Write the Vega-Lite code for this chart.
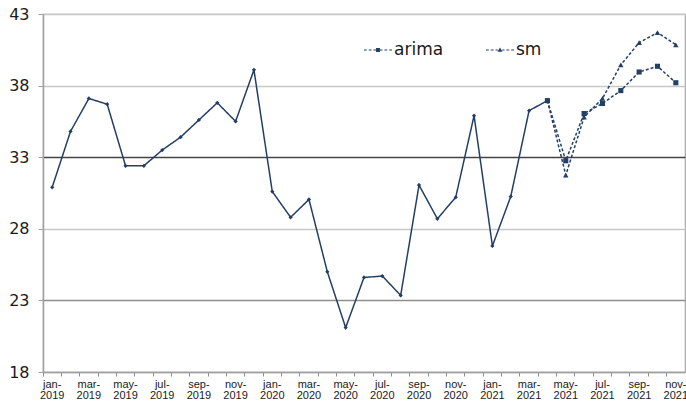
{
  "$schema": "https://vega.github.io/schema/vega-lite/v6.json",
  "width": 642,
  "height": 358,
  "autosize": "none",
  "padding": {"left": 43, "top": 14, "right": 1, "bottom": 31},
  "background": "white",
  "config": {
    "view": {"stroke": "#a8a8a8", "strokeWidth": 1.2},
    "font": "Liberation Sans"
  },
  "data": {
    "values": [
      {"month": "jan-2019", "series": "actual", "value": 30.9},
      {"month": "feb-2019", "series": "actual", "value": 34.8},
      {"month": "mar-2019", "series": "actual", "value": 37.1},
      {"month": "apr-2019", "series": "actual", "value": 36.7},
      {"month": "may-2019", "series": "actual", "value": 32.4},
      {"month": "jun-2019", "series": "actual", "value": 32.4},
      {"month": "jul-2019", "series": "actual", "value": 33.5},
      {"month": "aug-2019", "series": "actual", "value": 34.4},
      {"month": "sep-2019", "series": "actual", "value": 35.6},
      {"month": "oct-2019", "series": "actual", "value": 36.8},
      {"month": "nov-2019", "series": "actual", "value": 35.5},
      {"month": "dec-2019", "series": "actual", "value": 39.1},
      {"month": "jan-2020", "series": "actual", "value": 30.6},
      {"month": "feb-2020", "series": "actual", "value": 28.8},
      {"month": "mar-2020", "series": "actual", "value": 30.05},
      {"month": "apr-2020", "series": "actual", "value": 25.0},
      {"month": "may-2020", "series": "actual", "value": 21.1},
      {"month": "jun-2020", "series": "actual", "value": 24.6},
      {"month": "jul-2020", "series": "actual", "value": 24.7},
      {"month": "aug-2020", "series": "actual", "value": 23.35},
      {"month": "sep-2020", "series": "actual", "value": 31.05},
      {"month": "oct-2020", "series": "actual", "value": 28.7},
      {"month": "nov-2020", "series": "actual", "value": 30.2},
      {"month": "dec-2020", "series": "actual", "value": 35.9},
      {"month": "jan-2021", "series": "actual", "value": 26.8},
      {"month": "feb-2021", "series": "actual", "value": 30.25},
      {"month": "mar-2021", "series": "actual", "value": 36.25},
      {"month": "apr-2021", "series": "actual", "value": 36.95},
      {"month": "apr-2021", "series": "sm", "value": 36.95},
      {"month": "may-2021", "series": "sm", "value": 31.75},
      {"month": "jun-2021", "series": "sm", "value": 35.8},
      {"month": "jul-2021", "series": "sm", "value": 37.1},
      {"month": "aug-2021", "series": "sm", "value": 39.45},
      {"month": "sep-2021", "series": "sm", "value": 41.0},
      {"month": "oct-2021", "series": "sm", "value": 41.7},
      {"month": "nov-2021", "series": "sm", "value": 40.85},
      {"month": "apr-2021", "series": "arima", "value": 36.95},
      {"month": "may-2021", "series": "arima", "value": 32.75},
      {"month": "jun-2021", "series": "arima", "value": 36.05},
      {"month": "jul-2021", "series": "arima", "value": 36.75},
      {"month": "aug-2021", "series": "arima", "value": 37.65},
      {"month": "sep-2021", "series": "arima", "value": 38.95},
      {"month": "oct-2021", "series": "arima", "value": 39.35},
      {"month": "nov-2021", "series": "arima", "value": 38.2}
    ]
  },
  "encoding": {
    "x": {
      "field": "month",
      "type": "ordinal",
      "scale": {
        "type": "band",
        "paddingInner": 0,
        "paddingOuter": 0,
        "domain": ["jan-2019","feb-2019","mar-2019","apr-2019","may-2019","jun-2019","jul-2019","aug-2019","sep-2019","oct-2019","nov-2019","dec-2019","jan-2020","feb-2020","mar-2020","apr-2020","may-2020","jun-2020","jul-2020","aug-2020","sep-2020","oct-2020","nov-2020","dec-2020","jan-2021","feb-2021","mar-2021","apr-2021","may-2021","jun-2021","jul-2021","aug-2021","sep-2021","oct-2021","nov-2021"]
      },
      "axis": {
        "title": null,
        "bandPosition": 0,
        "labelAngle": 0,
        "labelOffset": 0,
        "labelOverlap": false,
        "labelExpr": "indexof(['jan','mar','may','jul','sep','nov'], slice(datum.label,0,3)) >= 0 ? [slice(datum.label,0,4), slice(datum.label,4)] : ''",
        "labelFont": "Liberation Sans",
        "labelFontSize": 11,
        "labelColor": "#1a1a1a",
        "labelLineHeight": 11,
        "labelPadding": 2,
        "tickSize": 4,
        "tickColor": "#8c8c8c",
        "domainColor": "#a0a0a0",
        "domainWidth": 1.5,
        "grid": false
      }
    },
    "y": {
      "field": "value",
      "type": "quantitative",
      "scale": {"domain": [18, 43], "nice": false, "zero": false},
      "axis": {
        "title": null,
        "values": [18, 23, 28, 33, 38, 43],
        "labelFont": "DejaVu Sans",
        "labelFontSize": 16,
        "labelColor": "#1a1a1a",
        "labelPadding": 9,
        "tickSize": 5,
        "tickColor": "#a0a0a0",
        "domainColor": "#a0a0a0",
        "domainWidth": 1.5,
        "grid": true,
        "gridColor": {"condition": [{"test": "datum.value === 33", "value": "#454545"}, {"test": "datum.value === 23", "value": "#8f8f8f"}], "value": "#c8c8c8"},
        "gridWidth": 1.3
      }
    }
  },
  "layer": [
    {
      "mark": {"type": "line", "color": "#243f66", "strokeWidth": 1.5},
      "encoding": {
        "detail": {"field": "series"},
        "strokeDash": {
          "field": "series",
          "type": "nominal",
          "scale": {"domain": ["actual", "arima", "sm"], "range": [[1, 0], [3, 2], [3, 2]]},
          "legend": null
        }
      }
    },
    {
      "transform": [{"filter": "datum.series !== 'actual'"}],
      "mark": {"type": "point", "filled": true, "size": 784, "color": "#243f66", "opacity": 0},
      "encoding": {
        "shape": {
          "field": "series",
          "type": "nominal",
          "scale": {
            "domain": ["arima", "sm"],
            "range": [
              "M-1,-0.04H-0.8V0.04H-1ZM-0.66,-0.04H-0.46V0.04H-0.66ZM-0.32,-0.04H-0.14V0.04H-0.32ZM-0.14,-0.14H0.14V0.14H-0.14ZM0.14,-0.04H0.32V0.04H0.14ZM0.46,-0.04H0.66V0.04H0.46ZM0.8,-0.04H1V0.04H0.8Z",
              "M-1,-0.04H-0.8V0.04H-1ZM-0.66,-0.04H-0.46V0.04H-0.66ZM-0.32,-0.04H-0.16V0.04H-0.32ZM0,-0.17L0.18,0.13L-0.18,0.13ZM0.16,-0.04H0.32V0.04H0.16ZM0.46,-0.04H0.66V0.04H0.46ZM0.8,-0.04H1V0.04H0.8Z"
            ]
          },
          "legend": {
            "title": null,
            "orient": "none",
            "direction": "horizontal",
            "legendX": 321,
            "legendY": 22,
            "symbolSize": 784,
            "symbolOpacity": 1,
            "symbolFillColor": "#243f66",
            "symbolStrokeWidth": 0,
            "labelFont": "DejaVu Sans",
            "labelFontSize": 17,
            "labelColor": "#1a1a1a",
            "labelOffset": 2,
            "columnPadding": 42
          }
        }
      }
    },
    {
      "transform": [{"filter": "datum.series === 'actual'"}],
      "mark": {"type": "point", "filled": true, "shape": "diamond", "size": 18, "color": "#243f66", "opacity": 1}
    },
    {
      "transform": [{"filter": "datum.series === 'sm'"}],
      "mark": {"type": "point", "filled": true, "shape": "triangle-up", "size": 30, "color": "#243f66", "opacity": 1}
    },
    {
      "transform": [{"filter": "datum.series === 'arima'"}],
      "mark": {"type": "point", "filled": true, "shape": "square", "size": 26, "color": "#243f66", "opacity": 1}
    }
  ]
}
